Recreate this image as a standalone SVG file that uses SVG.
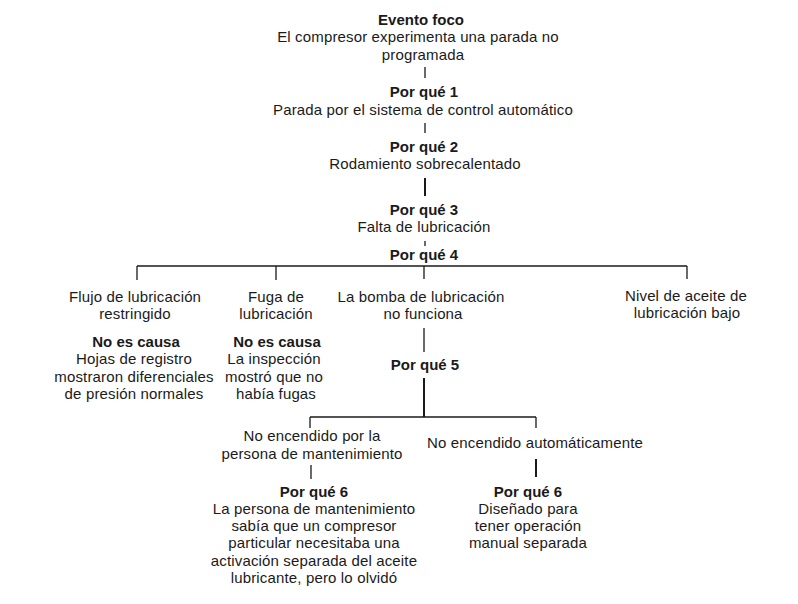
<svg xmlns="http://www.w3.org/2000/svg" width="798" height="604" viewBox="0 0 798 604">
<style>
text{font-family:"Liberation Sans",Arial,sans-serif;font-size:15px;letter-spacing:0.15px;fill:#1a1a1a;text-anchor:middle}
.b{font-weight:bold;letter-spacing:0}
.c line{stroke:#1a1a1a;stroke-width:1.3}
.c .t{stroke-width:2}
</style>
<rect width="798" height="604" fill="#fff"/>
<g class="c" id="connectors">
<line x1="425" y1="67" x2="425" y2="78"/>
<line x1="425" y1="123" x2="425" y2="133"/>
<line class="t" x1="425" y1="178" x2="425" y2="196"/>
<line x1="425" y1="241" x2="425" y2="246"/>
<line x1="137" y1="266" x2="687" y2="266"/>
<line x1="137" y1="266" x2="137" y2="280"/>
<line x1="276" y1="266" x2="276" y2="280"/>
<line x1="424" y1="266" x2="424" y2="279"/>
<line x1="687" y1="266" x2="687" y2="279"/>
<line x1="424" y1="328" x2="424" y2="352"/>
<line class="t" x1="424" y1="378" x2="424" y2="417"/>
<line x1="310" y1="417" x2="536" y2="417"/>
<line x1="310" y1="417" x2="310" y2="428"/>
<line x1="536" y1="417" x2="536" y2="428"/>
<line x1="311" y1="465" x2="311" y2="479"/>
<line class="t" x1="536" y1="459" x2="536" y2="477"/>
</g>
<g id="evento"><text class="b" x="421" y="25">Evento foco</text><text x="418" y="42">El compresor experimenta una parada no</text><text x="423" y="60">programada</text></g>
<g id="pq1"><text class="b" x="424" y="97">Por qué 1</text><text x="423" y="115">Parada por el sistema de control automático</text></g>
<g id="pq2"><text class="b" x="424" y="152">Por qué 2</text><text x="425" y="169">Rodamiento sobrecalentado</text></g>
<g id="pq3"><text class="b" x="424" y="215">Por qué 3</text><text x="424" y="232">Falta de lubricación</text></g>
<g id="pq4"><text class="b" x="424" y="260">Por qué 4</text></g>
<g id="flujo"><text x="135" y="302">Flujo de lubricación</text><text x="135" y="319">restringido</text><text class="b" x="136" y="347">No es causa</text><text x="134" y="364">Hojas de registro</text><text x="134" y="382">mostraron diferenciales</text><text x="134" y="399">de presión normales</text></g>
<g id="fuga"><text x="276" y="302">Fuga de</text><text x="276" y="319">lubricación</text><text class="b" x="277" y="347">No es causa</text><text x="274" y="364">La inspección</text><text x="274" y="382">mostró que no</text><text x="276" y="399">había fugas</text></g>
<g id="bomba"><text x="421" y="302">La bomba de lubricación</text><text x="423" y="319">no funciona</text></g>
<g id="nivel"><text x="686" y="301">Nivel de aceite de</text><text x="687" y="318">lubricación bajo</text></g>
<g id="pq5"><text class="b" x="425" y="370">Por qué 5</text></g>
<g id="noenc1"><text x="312" y="441">No encendido por la</text><text x="312" y="459">persona de mantenimiento</text></g>
<g id="noenc2"><text x="535" y="448">No encendido automáticamente</text></g>
<g id="pq6a"><text class="b" x="314" y="497">Por qué 6</text><text x="314" y="514">La persona de mantenimiento</text><text x="314" y="531">sabía que un compresor</text><text x="314" y="548">particular necesitaba una</text><text x="314" y="566">activación separada del aceite</text><text x="314" y="583">lubricante, pero lo olvidó</text></g>
<g id="pq6b"><text class="b" x="528" y="497">Por qué 6</text><text x="528" y="514">Diseñado para</text><text x="528" y="531">tener operación</text><text x="528" y="548">manual separada</text></g>
</svg>
